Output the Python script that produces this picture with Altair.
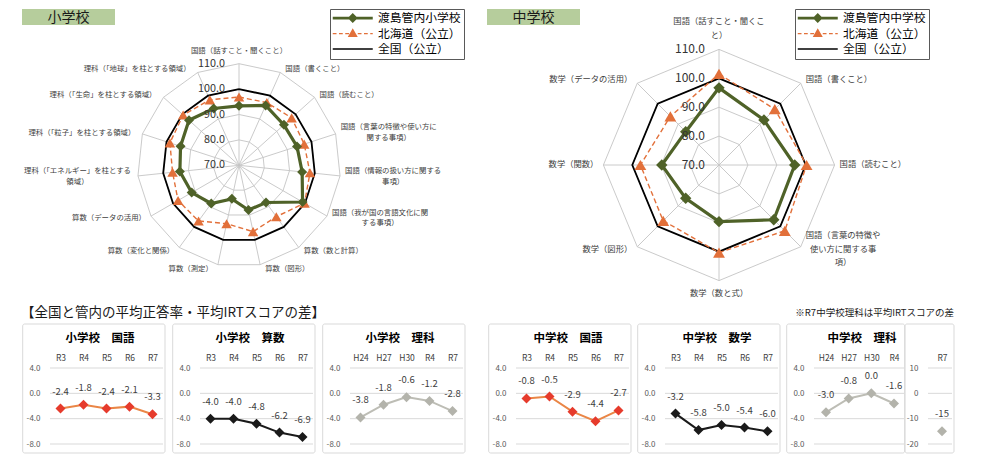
import altair as alt
import numpy as np
import pandas as pd

FONT = "Noto Sans CJK JP"
GREEN = "#4F6228"
ORANGE = "#E2703A"
BLACK = "#000000"
RING = "#c4c4c4"
HEADER_FILL = "#B6CD9C"

# ---------------- radar data ----------------
elem_axes = [
    "国語（話すこと・聞くこと）",
    "国語（書くこと）",
    "国語（読むこと）",
    "国語（言葉の特徴や使い方に\n関する事項）",
    "国語（情報の扱い方に関する\n事項）",
    "国語（我が国の言語文化に関\nする事項）",
    "算数（数と計算）",
    "算数（図形）",
    "算数（測定）",
    "算数（変化と関係）",
    "算数（データの活用）",
    "理科（「エネルギー」を柱とする\n領域）",
    "理科（「粒子」を柱とする領域）",
    "理科（「生命」を柱とする領域）",
    "理科（「地球」を柱とする領域）",
]
elem_local = [93.4, 95.8, 93.8, 94.0, 95.0, 98.9, 88.1, 88.0, 83.5, 88.6, 91.5, 93.4, 94.2, 96.5, 94.5]
elem_hokkaido = [96.9, 97.0, 97.9, 97.0, 98.1, 99.8, 95.0, 96.7, 93.5, 97.1, 97.7, 96.3, 98.6, 99.6, 98.2]
elem_national = [100.0, 100.0, 100.0, 100.0, 100.0, 100.0, 100.0, 100.0,
                 100.0, 100.0, 100.0, 100.0, 100.0, 100.0, 100.0]
elem_names = ["渡島管内小学校", "北海道（公立）", "全国（公立）"]

mid_axes = [
    "国語（話すこと・聞くこ\nと）",
    "国語（書くこと）",
    "国語（読むこと）",
    "国語（言葉の特徴や\n使い方に関する事\n項）",
    "数学（数と式）",
    "数学（図形）",
    "数学（関数）",
    "数学（データの活用）",
]
mid_local = [96.7, 92.0, 96.2, 96.8, 89.6, 86.3, 89.8, 86.3]
mid_hokkaido = [101.5, 97.3, 100.3, 102.2, 100.3, 97.3, 97.2, 93.8]
mid_national = [100.0, 100.0, 100.0, 100.0, 100.0, 100.0, 100.0, 100.0]
mid_names = ["渡島管内中学校", "北海道（公立）", "全国（公立）"]

radar_ticks = [70, 80, 90, 100, 110]

# ---------------- difference panels ----------------
elem_kokugo_years = ["R3", "R4", "R5", "R6", "R7"]
elem_kokugo = [-2.4, -1.8, -2.4, -2.1, -3.3]
elem_sansu_years = ["R3", "R4", "R5", "R6", "R7"]
elem_sansu = [-4.0, -4.0, -4.8, -6.2, -6.9]
elem_rika_years = ["H24", "H27", "H30", "R4", "R7"]
elem_rika = [-3.8, -1.8, -0.6, -1.2, -2.8]
mid_kokugo_years = ["R3", "R4", "R5", "R6", "R7"]
mid_kokugo = [-0.8, -0.5, -2.9, -4.4, -2.7]
mid_sugaku_years = ["R3", "R4", "R5", "R6", "R7"]
mid_sugaku = [-3.2, -5.8, -5.0, -5.4, -6.0]
mid_rika_years = ["H24", "H27", "H30", "R4"]
mid_rika = [-3.0, -0.8, 0.0, -1.6]
mid_rika_irt_years = ["R7"]
mid_rika_irt = [-15]

diff_ticks = [4, 0, -4, -8]
irt_ticks = [10, 0, -10, -20]

# layout (page pixels) of the radar row
TOP_X, TOP_Y = 50, 48
TOP_W, TOP_H = 900, 231


def legend_paths():
    u0, u1 = -1.0, 5.4
    green = (f"M{u0},-0.22L{u1},-0.22L{u1},0.22L{u0},0.22Z"
             "M2.2,-0.8L3.0,0L2.2,0.8L1.4,0Z")
    dashes = ""
    x = u0
    while x < u1:
        e = min(x + 0.6, u1)
        dashes += f"M{x:.2f},-0.1L{e:.2f},-0.1L{e:.2f},0.1L{x:.2f},0.1Z"
        x += 1.0
    orange = dashes + "M2.2,-0.85L3.0,0.55L1.4,0.55Z"
    black = f"M{u0},-0.13L{u1},-0.13L{u1},0.13L{u0},0.13Z"
    return [green, orange, black]


def polygon(vals, ang, lo):
    idx = list(range(len(vals))) + [0]
    r = np.array([vals[i] - lo for i in idx])
    a = ang[idx]
    return pd.DataFrame({"idx": np.arange(len(idx)), "x": r * np.sin(a), "y": r * np.cos(a)})


def radar(axes, local, hokkaido, national, names, center, radius, label_fs, label_lh,
          tick_fs, dia_size, tri_size, legend_x, header, header_x, anchor=False):
    n = len(axes)
    lo, hi = radar_ticks[0], radar_ticks[-1]
    k = radius / (hi - lo)
    cx, cy = center[0] - TOP_X, center[1] - TOP_Y
    xs = alt.Scale(domain=[-cx / k, (TOP_W - cx) / k], nice=False, zero=False)
    ys = alt.Scale(domain=[-(TOP_H - cy) / k, cy / k], nice=False, zero=False)
    X = alt.X("x:Q", scale=xs, axis=None)
    Y = alt.Y("y:Q", scale=ys, axis=None)
    ang = 2 * np.pi * np.arange(n) / n

    rings = pd.concat([polygon([lv] * n, ang, lo).assign(level=lv) for lv in radar_ticks[1:]])
    spokes = pd.DataFrame({"x": 0.0, "y": 0.0,
                           "x2": (hi - lo) * np.sin(ang), "y2": (hi - lo) * np.cos(ang)})

    # category labels sit just outside the outer ring; vega anchors the first line
    rows = []
    for lab, a in zip(axes, ang):
        s, c = np.sin(a), np.cos(a)
        lines = lab.split("\n")
        half_w = max(len(t) for t in lines) * label_fs / 2
        half_h = len(lines) * label_lh / 2
        vx, vy = radius * s, radius * c
        if abs(s) < 0.1:
            px, py = vx, vy + np.sign(c) * (7 + half_h)
        else:
            px, py = vx + np.sign(s) * (5 + half_w), vy + 4 * c
        py += (len(lines) - 1) * label_lh / 2
        rows.append({"label": lab, "x": px / k, "y": py / k})
    labels = pd.DataFrame(rows)

    ticks = pd.DataFrame({"t": [f"{t:.1f}" for t in radar_ticks],
                          "x": -14 / k, "y": [t - lo for t in radar_ticks]})

    nat = polygon(national, ang, lo)
    hok = polygon(hokkaido, ang, lo)
    loc = polygon(local, ang, lo)
    one = alt.Data(values=[{}])

    leg = alt.Legend(orient="none", legendX=legend_x, legendY=-40, title=None,
                     symbolSize=156.25, symbolStrokeWidth=0, symbolOpacity=1,
                     labelOffset=32.5, labelFontSize=11.8, labelColor="#000",
                     padding=2.5, rowPadding=1.5, strokeColor="#595959", labelLimit=300)

    layers = [
        alt.Chart(rings).mark_line(color=RING, strokeWidth=0.9).encode(
            x=X, y=Y, detail="level:N", order="idx:Q"),
        alt.Chart(spokes).mark_rule(color=RING, strokeWidth=0.9).encode(
            x=X, y=Y, x2="x2:Q", y2="y2:Q"),
        alt.Chart(nat).mark_line(color=BLACK, strokeWidth=1.8).encode(x=X, y=Y, order="idx:Q"),
        alt.Chart(hok).mark_line(color=ORANGE, strokeWidth=1.4, strokeDash=[5, 3]).encode(
            x=X, y=Y, order="idx:Q"),
        alt.Chart(hok.iloc[:-1]).mark_point(shape="triangle-up", filled=True, size=tri_size,
                                            color=ORANGE, opacity=1).encode(x=X, y=Y),
        alt.Chart(loc).mark_line(color=GREEN, strokeWidth=3.2).encode(x=X, y=Y, order="idx:Q"),
        alt.Chart(loc.iloc[:-1]).mark_point(shape="diamond", filled=True, size=dia_size,
                                            color=GREEN, opacity=1).encode(x=X, y=Y),
        alt.Chart(labels).mark_text(lineBreak="\n", align="center", baseline="middle",
                                    fontSize=label_fs, lineHeight=label_lh,
                                    color="#404040").encode(x=X, y=Y, text="label:N"),
        alt.Chart(ticks).mark_text(align="right", baseline="middle", fontSize=tick_fs,
                                   color="#333333").encode(x=X, y=Y, text="t:N"),
        alt.Chart(one).mark_rect(fill=HEADER_FILL).encode(
            x=alt.value(header_x), x2=alt.value(header_x + 93),
            y=alt.value(-40), y2=alt.value(-24)),
        alt.Chart(one).mark_text(fontSize=14, color="#1a1a1a", baseline="middle").encode(
            x=alt.value(header_x + 46.5), y=alt.value(-31.5), text=alt.value(header)),
        alt.Chart(pd.DataFrame({"series": names})).transform_filter("false").mark_point(
            filled=True, opacity=1).encode(
            x=alt.value(0), y=alt.value(0),
            color=alt.Color("series:N", scale=alt.Scale(domain=names, range=[GREEN, ORANGE, BLACK]),
                            legend=leg),
            shape=alt.Shape("series:N", scale=alt.Scale(domain=names, range=legend_paths()),
                            legend=leg)),
    ]
    if anchor:
        layers.append(alt.Chart(one).mark_rect(fill="white").encode(
            x=alt.value(-42), x2=alt.value(-41), y=alt.value(-40), y2=alt.value(-39)))
    return alt.layer(*layers)


def label_fmt(v):
    return f"{v:.1f}" if isinstance(v, float) else f"{v}"


def panel(cats, vals, title, line_c, mark_c, width, grid_w, x_range, y_dom, y_ticks, y_fmt,
          border, title_x, extras=()):
    df = pd.DataFrame({"cat": cats, "val": vals, "lab": [label_fmt(v) for v in vals]})
    ysc = alt.Scale(domain=y_dom, nice=False, zero=False)
    y_axis = alt.Axis(values=y_ticks, title=None, grid=False, ticks=False, tickSize=0,
                      domain=False, labelFontSize=8, labelColor="#595959", labelPadding=10,
                      labelExpr=f"replace(format(datum.value, '{y_fmt}'), '\u2212', '-')")
    X = alt.X("cat:N", sort=cats, scale=alt.Scale(range=x_range, padding=0),
              axis=alt.Axis(orient="top", title=None, ticks=False, tickSize=0, domain=False,
                            grid=False, labelAngle=0, labelFontSize=8.5, labelColor="#404040",
                            labelPadding=6))
    Y = alt.Y("val:Q", scale=ysc, axis=y_axis)
    one = alt.Data(values=[{}])
    base = alt.Chart(df).encode(x=X, y=Y)
    layers = [
        alt.Chart(pd.DataFrame({"t": y_ticks})).mark_rule(color="#d9d9d9", strokeWidth=1).encode(
            y=alt.Y("t:Q", scale=ysc, axis=y_axis), x=alt.value(0), x2=alt.value(grid_w)),
        alt.Chart(one).mark_rect(fill="transparent", stroke="#d9d9d9", strokeWidth=1,
                                 cornerRadius=2).encode(
            x=alt.value(border[0]), x2=alt.value(border[1]), y=alt.value(-44), y2=alt.value(85)),
        base.mark_line(color=line_c, strokeWidth=2),
        base.mark_point(shape="diamond", filled=True, size=100, color=mark_c, opacity=1),
        base.mark_text(dy=-17, fontSize=9.5, color="#404040").encode(text="lab:N"),
    ]
    if title:
        layers.append(alt.Chart(one).mark_text(fontSize=11.5, fontWeight="bold", color="#000").encode(
            x=alt.value(title_x), y=alt.value(-28.7), text=alt.value(title)))
    for txt, tx, ty, align, fs in extras:
        layers.append(alt.Chart(one).mark_text(fontSize=fs, align=align, baseline="middle",
                                               color="#1a1a1a").encode(
            x=alt.value(tx), y=alt.value(ty), text=alt.value(txt)))
    return alt.layer(*layers).properties(width=width, height=76)


elem = radar(elem_axes, elem_local, elem_hokkaido, elem_national, elem_names,
             center=(239, 164.3), radius=101.6, label_fs=7.4, label_lh=10.5, tick_fs=10.8,
             dia_size=100, tri_size=110, legend_x=280, header="小学校", header_x=-28, anchor=True)
mid = radar(mid_axes, mid_local, mid_hokkaido, mid_national, mid_names,
            center=(719, 164), radius=115.6, label_fs=8.3, label_lh=13.5, tick_fs=12,
            dia_size=130, tri_size=140, legend_x=745, header="中学校", header_x=437)

top = alt.layer(elem, mid).resolve_scale(
    x="independent", y="independent", color="independent", shape="independent"
).properties(width=TOP_W, height=TOP_H)

KOKUGO_LINE, KOKUGO_MARK = "#EA8646", "#E63B2C"
MATH_C = "#1a1a1a"
RIKA_LINE, RIKA_MARK = "#BDBDB5", "#B3B3AB"
R5 = [10.5, 102.5]

panels = [
    panel(elem_kokugo_years, elem_kokugo, "小学校　国語", KOKUGO_LINE, KOKUGO_MARK, 124.3, 113, R5,
          [-8, 4], diff_ticks, ".1f", (-27.3, 115), 50,
          extras=[("【全国と管内の平均正答率・平均IRTスコアの差】", -29, -55, "left", 13.5)]),
    panel(elem_sansu_years, elem_sansu, "小学校　算数", MATH_C, MATH_C, 125, 113, R5,
          [-8, 4], diff_ticks, ".1f", (-27.3, 115), 50),
    panel(elem_rika_years, elem_rika, "小学校　理科", RIKA_LINE, RIKA_MARK, 141, 113, R5,
          [-8, 4], diff_ticks, ".1f", (-27.3, 115), 50),
    panel(mid_kokugo_years, mid_kokugo, "中学校　国語", KOKUGO_LINE, KOKUGO_MARK, 123.7, 113, R5,
          [-8, 4], diff_ticks, ".1f", (-27.3, 115), 52),
    panel(mid_sugaku_years, mid_sugaku, "中学校　数学", MATH_C, MATH_C, 123.3, 113, R5,
          [-8, 4], diff_ticks, ".1f", (-27.3, 115), 52),
    panel(mid_rika_years, mid_rika, "中学校　理科", RIKA_LINE, RIKA_MARK, 88.7, 90, [12, 80],
          [-8, 4], diff_ticks, ".1f", (-27.3, 90.7), 48),
    panel(mid_rika_irt_years, mid_rika_irt, None, RIKA_LINE, RIKA_MARK, 24, 24, [14, 14],
          [-20, 10], irt_ticks, "d", (-23, 26), 0,
          extras=[("※R7中学校理科は平均IRTスコアの差", 26, -55, "right", 9.5)]),
]

bottom = alt.hconcat(*panels, spacing=25, bounds="flush")

chart = alt.vconcat(top, bottom, spacing=88, bounds="flush").resolve_scale(
    color="independent", shape="independent"
).properties(padding=0, background="white").configure(font=FONT).configure_view(stroke=None)

chart.save("out.html", embed_options={"renderer": "svg", "actions": False})
